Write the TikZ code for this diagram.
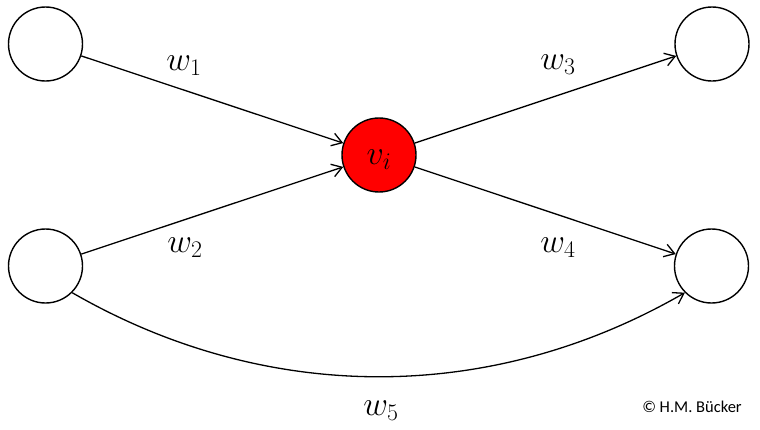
\RequirePackage{fix-cm}
\documentclass[tikz,border=0pt]{standalone}
\usepackage{fontspec}
\newfontfamily\credit{Carlito}
\usetikzlibrary{arrows.meta}
\begin{document}
\begin{tikzpicture}[x=1pt,y=-1pt,
  vert/.style={circle,draw,line width=1.4pt,minimum size=74pt,inner sep=0pt},
  conn/.style={line width=1.3pt,-{Straight Barb[length=10pt,width=13pt,line width=1.3pt]}},
  wlab/.style={font=\fontsize{34}{40}\selectfont}]
\useasboundingbox (0,0) rectangle (760,429);
\node[vert] (a) at (45.5,44) {};
\node[vert] (b) at (45.5,266) {};
\node[vert,fill=red] (c) at (379,155) {\fontsize{34}{40}\selectfont\raisebox{-9pt}[0pt][0pt]{$v_i$}};
\node[vert] (d) at (712,44) {};
\node[vert] (e) at (711.5,266) {};
\draw[conn] (a) -- (c);
\draw[conn] (b) -- (c);
\draw[conn] (c) -- (d);
\draw[conn] (c) -- (e);
\draw[conn] (b.-45) .. controls +(194,112) and +(-194,112) .. (e.-135);
\node[wlab] (l1) at (184,66) {$w_1$};
\node[wlab] (l2) at (185,248) {$w_2$};
\node[wlab] (l3) at (558,65) {$w_3$};
\node[wlab] (l4) at (558,248) {$w_4$};
\node[wlab] (l5) at (381,411) {$w_5$};
\node[font=\credit\fontsize{16.5}{20}\selectfont] (cr) at (692,407) {© H.M. Bücker};
\end{tikzpicture}
\end{document}
